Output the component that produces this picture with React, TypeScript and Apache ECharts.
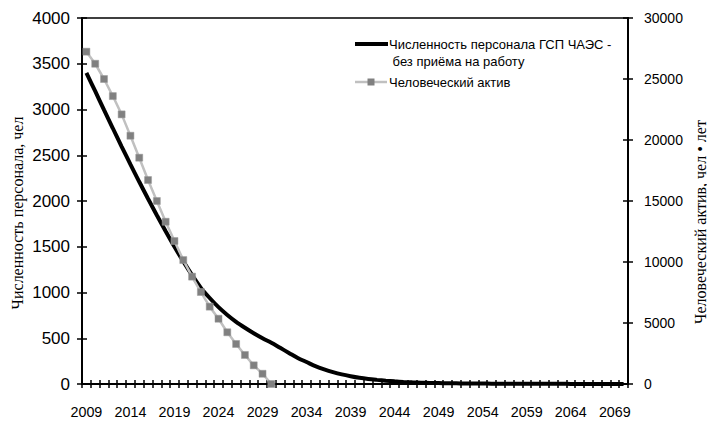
import React, { useEffect, useRef } from "react";
import * as echarts from "echarts";

const years: string[] = [
  "2009", "2010", "2011", "2012", "2013", "2014", "2015", "2016", "2017", "2018",
  "2019", "2020", "2021", "2022", "2023", "2024", "2025", "2026", "2027", "2028",
  "2029", "2030", "2031", "2032", "2033", "2034", "2035", "2036", "2037", "2038",
  "2039", "2040", "2041", "2042", "2043", "2044", "2045", "2046", "2047", "2048",
  "2049", "2050", "2051", "2052", "2053", "2054", "2055", "2056", "2057", "2058",
  "2059", "2060", "2061", "2062", "2063", "2064", "2065", "2066", "2067", "2068",
  "2069", "2070",
];

// Численность персонала ГСП ЧАЭС - без приёма на работу (чел)
const staff: number[] = [
  3400, 3200, 2995, 2795, 2595, 2400, 2210, 2025, 1845, 1670,
  1500, 1340, 1190, 1050, 940, 840, 755, 680, 615, 555,
  500, 450, 395, 340, 285, 240, 195, 160, 130, 105,
  85, 68, 55, 45, 36, 29, 23, 18, 15, 12,
  10, 8, 7, 6, 5, 5, 4, 4, 3, 3,
  3, 2, 2, 2, 2, 1, 1, 1, 1, 1,
  1, 0,
];

// Человеческий актив (чел•лет), 2009–2030
const humanAsset: (number | null)[] = [
  27240, 26250, 25000, 23600, 22100, 20350, 18550, 16720, 15000, 13300,
  11720, 10160, 8800, 7540, 6340, 5350, 4240, 3280, 2380, 1530,
  840, 0,
];

const leftTicks = { min: 0, max: 4000, interval: 500 };
const rightTicks = { min: 0, max: 30000, interval: 5000 };

const seriesNames = [
  "Численность персонала ГСП ЧАЭС -\n без приёма на работу",
  "Человеческий актив",
];
const leftAxisName = "Численность персонала, чел";
const rightAxisName = "Человеческий актив, чел • лет";

const SANS = '"Liberation Sans", Arial, sans-serif';
const SERIF = '"Liberation Serif", "Times New Roman", serif';

const plain = (v: number) => String(v);

export default function App() {
  const ref = useRef<HTMLDivElement>(null);

  useEffect(() => {
    if (!ref.current) return;
    const chart = echarts.init(ref.current, undefined, { renderer: "svg" });
    const tickStyle = { color: "#000", width: 1.5 };
    const option: any = {
      animation: false,
      grid: {
        left: 82,
        right: 79,
        top: 18,
        bottom: 45,
        show: true,
        borderColor: "#000",
        borderWidth: 1.5,
        backgroundColor: "transparent",
      },
      xAxis: [
        {
          type: "category",
          data: years,
          position: "bottom",
          boundaryGap: true,
          axisLine: { show: true, lineStyle: { color: "#000", width: 2 } },
          axisTick: { show: true, interval: 0, length: 4, lineStyle: tickStyle },
          axisLabel: {
            interval: 4,
            margin: 21,
            fontSize: 14.3,
            color: "#000",
            fontFamily: SANS,
          },
          splitLine: { show: false },
        },
        {
          type: "category",
          data: years,
          position: "bottom",
          boundaryGap: true,
          axisLine: { show: false },
          axisTick: { show: true, inside: true, interval: 0, length: 4, lineStyle: tickStyle },
          axisLabel: { show: false },
          splitLine: { show: false },
        },
      ],
      yAxis: [
        {
          type: "value",
          position: "left",
          ...leftTicks,
          axisLine: { show: true, lineStyle: { color: "#000", width: 2 } },
          axisTick: { show: true, length: 5, lineStyle: tickStyle },
          axisLabel: { margin: 12, fontSize: 17, color: "#000", fontFamily: SANS, formatter: plain },
          splitLine: { show: false },
        },
        {
          type: "value",
          position: "right",
          ...rightTicks,
          axisLine: { show: true, lineStyle: { color: "#000", width: 2 } },
          axisTick: { show: true, length: 5, lineStyle: tickStyle },
          axisLabel: { margin: 16, fontSize: 14, color: "#000", fontFamily: SANS, formatter: plain },
          splitLine: { show: false },
        },
        {
          type: "value",
          position: "left",
          ...leftTicks,
          axisLine: { show: false },
          axisTick: { show: true, inside: true, length: 5, lineStyle: tickStyle },
          axisLabel: { show: false },
          splitLine: { show: false },
        },
        {
          type: "value",
          position: "right",
          ...rightTicks,
          axisLine: { show: false },
          axisTick: { show: true, inside: true, length: 5, lineStyle: tickStyle },
          axisLabel: { show: false },
          splitLine: { show: false },
        },
      ],
      series: [
        {
          name: seriesNames[0],
          type: "line",
          xAxisIndex: 0,
          yAxisIndex: 0,
          data: staff,
          smooth: 0.3,
          showSymbol: false,
          symbol: "none",
          lineStyle: { color: "#000", width: 4 },
          z: 3,
        },
        {
          name: seriesNames[1],
          type: "line",
          xAxisIndex: 0,
          yAxisIndex: 1,
          data: humanAsset,
          symbol: "rect",
          symbolSize: 7,
          showSymbol: true,
          showAllSymbol: true,
          lineStyle: { color: "#c0c0c0", width: 2.5 },
          itemStyle: { color: "#808080", borderColor: "#9a9a9a", borderWidth: 0.5 },
          z: 4,
        },
      ],
      graphic: [
        {
          type: "line",
          shape: { x1: 355, y1: 44, x2: 388, y2: 44 },
          style: { stroke: "#000", lineWidth: 4 },
        },
        {
          type: "text",
          x: 389,
          y: 35.5,
          style: {
            text: seriesNames[0],
            fontSize: 13,
            fontFamily: SANS,
            fill: "#000",
            align: "left",
            verticalAlign: "top",
            lineHeight: 17.5,
          },
        },
        {
          type: "line",
          shape: { x1: 355, y1: 82, x2: 387, y2: 82 },
          style: { stroke: "#c0c0c0", lineWidth: 2.5 },
        },
        {
          type: "rect",
          shape: { x: 367.5, y: 78.5, width: 7, height: 7 },
          style: { fill: "#808080" },
        },
        {
          type: "text",
          x: 389,
          y: 82,
          style: {
            text: seriesNames[1],
            fontSize: 13,
            fontFamily: SANS,
            fill: "#000",
            align: "left",
            verticalAlign: "middle",
          },
        },
        {
          type: "text",
          x: 17,
          y: 213,
          rotation: Math.PI / 2,
          style: {
            text: leftAxisName,
            fontSize: 16,
            fontFamily: SERIF,
            fill: "#000",
            align: "center",
            verticalAlign: "middle",
          },
        },
        {
          type: "text",
          x: 700,
          y: 222,
          rotation: Math.PI / 2,
          style: {
            text: rightAxisName,
            fontSize: 16,
            fontFamily: SERIF,
            fill: "#000",
            align: "center",
            verticalAlign: "middle",
          },
        },
      ],
    };
    chart.setOption(option);
    return () => {
      chart.dispose();
    };
  }, []);

  return (
    <div
      ref={ref}
      style={{ position: "fixed", left: 0, top: 0, width: 707, height: 429, background: "#fff" }}
    />
  );
}
